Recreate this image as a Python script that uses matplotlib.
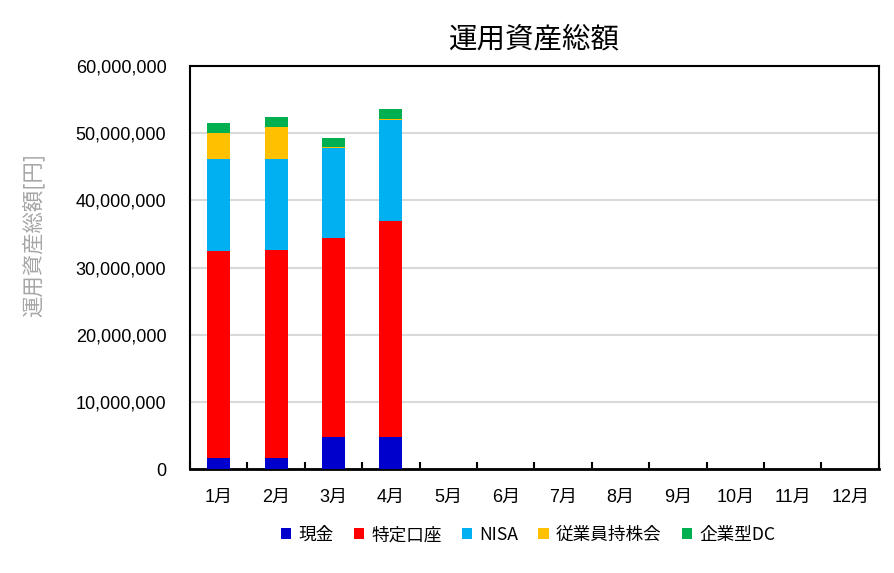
import matplotlib
matplotlib.use('Agg')
import matplotlib.pyplot as plt
import numpy as np
from matplotlib.ticker import FuncFormatter

plt.rcParams['font.family'] = ['Liberation Sans', 'Noto Sans CJK JP', 'DejaVu Sans']

months = ['1月', '2月', '3月', '4月', '5月', '6月', '7月', '8月', '9月', '10月', '11月', '12月']
genkin    = [1700000, 1700000, 4700000, 4700000, 0, 0, 0, 0, 0, 0, 0, 0]
tokutei   = [30700000, 30900000, 29700000, 32200000, 0, 0, 0, 0, 0, 0, 0, 0]
nisa      = [13700000, 13500000, 13400000, 15000000, 0, 0, 0, 0, 0, 0, 0, 0]
mochikabu = [3900000, 4800000, 150000, 150000, 0, 0, 0, 0, 0, 0, 0, 0]
dc        = [1500000, 1500000, 1350000, 1500000, 0, 0, 0, 0, 0, 0, 0, 0]

series = [
    ('現金', genkin, '#0000CC'),
    ('特定口座', tokutei, '#FF0000'),
    ('NISA', nisa, '#00B0F0'),
    ('従業員持株会', mochikabu, '#FFC000'),
    ('企業型DC', dc, '#00B050'),
]

fig = plt.figure(figsize=(8.95, 5.73), dpi=100)
ax = fig.add_axes([0.2123, 0.1815, 0.7697, 0.7033])

x = np.arange(len(months))
bottom = np.zeros(len(months))
for name, vals, col in series:
    vals = np.array(vals, dtype=float)
    ax.bar(x, vals, 0.4, bottom=bottom, color=col, label=name, zorder=3)
    bottom += vals

ax.set_xlim(-0.5, len(months) - 0.5)
ax.set_ylim(0, 60000000)
ax.set_yticks(np.arange(0, 60000001, 10000000))
ax.yaxis.set_major_formatter(FuncFormatter(lambda v, p: f"{int(v):,}"))
ax.yaxis.grid(True, color='#d9d9d9', linewidth=1.5, zorder=0)
ax.tick_params(axis='y', length=0, labelsize=13, pad=17)

ax.set_xticks(x)
ax.set_xticklabels(months, fontsize=13)
ax.set_xticks(np.arange(-0.5, len(months)), minor=True)
ax.tick_params(axis='x', which='major', length=0, pad=14)
ax.tick_params(axis='x', which='minor', direction='in', length=5, width=1.5, color='black')

for s in ax.spines.values():
    s.set_color('black')
    s.set_linewidth(1.5)
ax.spines['bottom'].set_linewidth(2)

ax.set_ylabel('運用資産総額[円]', fontsize=15.4, color='#a6a6a6',
              family=['Noto Sans CJK JP'])
ax.yaxis.set_label_coords(-0.21, 0.58)
fig.text(0.5975, 0.932, '運用資産総額', fontsize=20.5, ha='center', va='center',
         family=['Noto Sans CJK JP'])

leg = fig.legend(loc='center', bbox_to_anchor=(0.590, 0.066), ncol=5, frameon=False,
                 handlelength=0.58, handleheight=0.58, handletextpad=0.4,
                 columnspacing=1.15, prop={'family': ['Noto Sans CJK JP'], 'size': 12.7})

fig.savefig('out.png', dpi=100, facecolor='white')
